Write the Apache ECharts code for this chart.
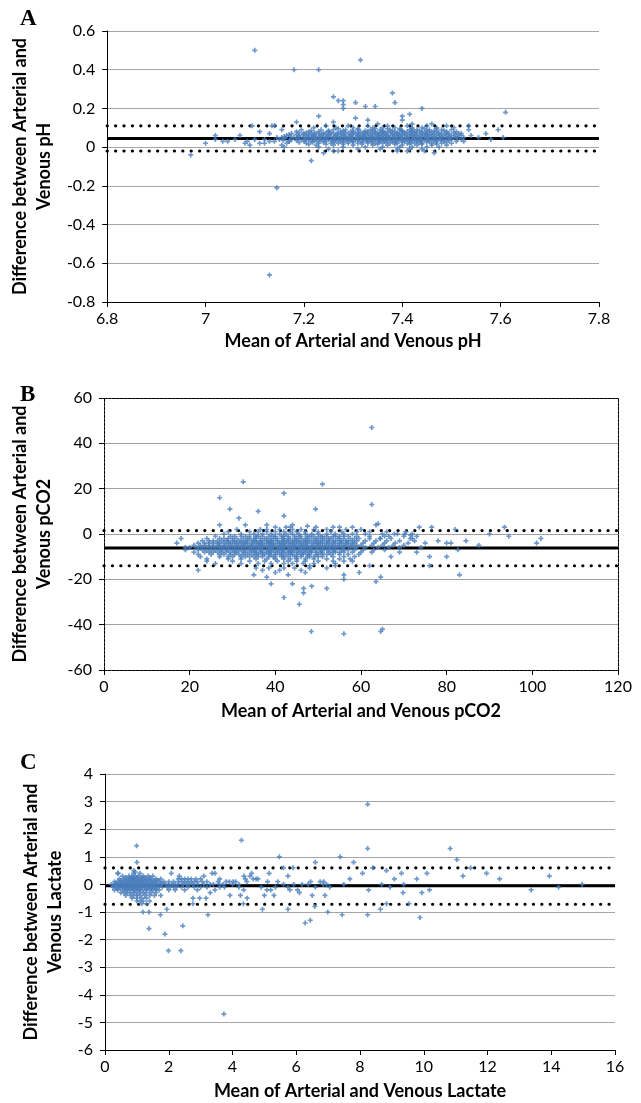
<!DOCTYPE html>
<html>
<head>
<meta charset="utf-8">
<script src="https://cdn.jsdelivr.net/npm/echarts@6/dist/echarts.min.js"></script>
<style>
  html, body { margin: 0; padding: 0; background: #fff; }
  #main { width: 641px; height: 1103px; }
</style>
</head>
<body>
<div id="main"></div>
<script>
// ---- panel A: pH ----
const phLines = [0.045, 0.11, -0.02]; // bias, upper LoA, lower LoA
const phOutliers = [
  [7.10, 0.50], [7.315, 0.45], [7.18, 0.40], [7.23, 0.40], [7.38, 0.28], [7.26, 0.26],
  [7.27, 0.24], [7.28, 0.24], [7.28, 0.22], [7.28, 0.20], [7.305, 0.23], [7.325, 0.21],
  [7.345, 0.21], [7.385, 0.23], [7.44, 0.20], [7.61, 0.18], [7.23, 0.16], [7.305, 0.15],
  [7.33, 0.14], [7.40, 0.16], [7.40, 0.14], [7.415, 0.17], [7.185, 0.13], [6.97, -0.04],
  [7.00, 0.02], [7.02, 0.06], [7.02, 0.04], [7.035, 0.03], [7.045, 0.03], [7.06, 0.04],
  [7.07, 0.06], [7.08, 0.02], [7.085, 0.03], [7.09, 0.01], [7.095, 0.11], [7.10, 0.04],
  [7.11, 0.08], [7.11, 0.02], [7.12, 0.04], [7.13, 0.07], [7.135, 0.11], [7.14, 0.11],
  [7.13, 0.03], [7.145, 0.05], [7.155, 0.09], [7.16, 0.0], [7.17, 0.03], [7.215, -0.07],
  [7.145, -0.21], [7.13, -0.66], [7.57, 0.07], [7.595, 0.09], [7.605, 0.05], [7.58, 0.04],
  [7.555, 0.05], [7.54, 0.06], [7.535, 0.11], [7.535, 0.09], [7.52, 0.07], [7.525, 0.03],
  [7.24, -0.03], [7.26, -0.02], [7.465, -0.03], [7.39, -0.02], [7.26, 0.13], [7.35, 0.12],
  [7.42, 0.12], [7.46, 0.12]
];
const phRows = [
  [0.11, [7.245, 7.29, 7.33, 7.37, 7.41, 7.45, 7.49]],
  [0.10, [7.22, 7.265, 7.30, 7.34, 7.36, 7.385, 7.42, 7.44, 7.47, 7.505]],
  [0.095, [7.27, 7.31, 7.345, 7.37, 7.395, 7.42, 7.445, 7.47]],
  [0.09, [7.195, 7.235, 7.26, 7.285, 7.31, 7.335, 7.355, 7.375, 7.395, 7.415, 7.43, 7.455, 7.48, 7.50]],
  [0.085, [7.215, 7.25, 7.28, 7.30, 7.325, 7.34, 7.36, 7.38, 7.40, 7.42, 7.435, 7.45, 7.465, 7.485]],
  [0.08, [7.185, 7.21, 7.23, 7.25, 7.275, 7.295, 7.315, 7.33, 7.345, 7.36, 7.37, 7.385, 7.40, 7.41, 7.425, 7.44, 7.455, 7.47, 7.49, 7.51]],
  [0.075, [7.19, 7.205, 7.222, 7.24, 7.255, 7.268, 7.283, 7.30, 7.31, 7.323, 7.338, 7.35, 7.362, 7.376, 7.39, 7.404, 7.418, 7.43, 7.447, 7.46, 7.474, 7.49, 7.505]],
  [0.07, [7.175, 7.20, 7.215, 7.23, 7.245, 7.26, 7.275, 7.29, 7.305, 7.32, 7.33, 7.345, 7.355, 7.365, 7.38, 7.39, 7.40, 7.415, 7.425, 7.44, 7.45, 7.465, 7.48, 7.495, 7.515]],
  [0.065, [7.17, 7.185, 7.198, 7.21, 7.222, 7.238, 7.252, 7.268, 7.282, 7.298, 7.312, 7.326, 7.34, 7.353, 7.367, 7.38, 7.392, 7.408, 7.42, 7.436, 7.448, 7.46, 7.476, 7.49, 7.508]],
  [0.06, [7.165, 7.19, 7.205, 7.22, 7.235, 7.25, 7.265, 7.28, 7.295, 7.31, 7.32, 7.335, 7.35, 7.36, 7.37, 7.385, 7.395, 7.405, 7.42, 7.43, 7.445, 7.455, 7.47, 7.485, 7.50, 7.52]],
  [0.055, [7.16, 7.172, 7.19, 7.208, 7.219, 7.231, 7.246, 7.262, 7.276, 7.292, 7.308, 7.32, 7.332, 7.346, 7.358, 7.371, 7.383, 7.397, 7.414, 7.428, 7.44, 7.452, 7.466, 7.48, 7.496, 7.512]],
  [0.05, [7.155, 7.18, 7.20, 7.215, 7.225, 7.24, 7.255, 7.27, 7.285, 7.30, 7.315, 7.325, 7.34, 7.35, 7.365, 7.375, 7.39, 7.40, 7.41, 7.425, 7.435, 7.45, 7.46, 7.475, 7.49, 7.505, 7.525]],
  [0.045, [7.162, 7.187, 7.205, 7.218, 7.232, 7.244, 7.26, 7.274, 7.286, 7.297, 7.31, 7.322, 7.337, 7.347, 7.36, 7.372, 7.386, 7.398, 7.41, 7.422, 7.438, 7.45, 7.464, 7.478, 7.494, 7.512]],
  [0.04, [7.15, 7.175, 7.195, 7.21, 7.225, 7.235, 7.25, 7.265, 7.28, 7.29, 7.305, 7.32, 7.33, 7.345, 7.355, 7.37, 7.38, 7.395, 7.405, 7.42, 7.43, 7.445, 7.455, 7.47, 7.485, 7.50, 7.52]],
  [0.035, [7.158, 7.185, 7.203, 7.222, 7.24, 7.256, 7.27, 7.284, 7.296, 7.31, 7.326, 7.336, 7.35, 7.362, 7.376, 7.388, 7.40, 7.414, 7.425, 7.437, 7.45, 7.463, 7.478, 7.495]],
  [0.03, [7.14, 7.17, 7.20, 7.215, 7.23, 7.245, 7.26, 7.275, 7.29, 7.30, 7.315, 7.33, 7.34, 7.355, 7.365, 7.38, 7.39, 7.405, 7.415, 7.43, 7.44, 7.455, 7.47, 7.485, 7.51]],
  [0.025, [7.19, 7.218, 7.24, 7.262, 7.28, 7.30, 7.32, 7.338, 7.352, 7.368, 7.384, 7.40, 7.418, 7.434, 7.45, 7.468, 7.49]],
  [0.02, [7.12, 7.165, 7.205, 7.23, 7.255, 7.27, 7.29, 7.31, 7.33, 7.345, 7.36, 7.375, 7.39, 7.41, 7.425, 7.44, 7.46, 7.48, 7.50]],
  [0.015, [7.21, 7.245, 7.28, 7.318, 7.35, 7.385, 7.415, 7.44, 7.47]],
  [0.01, [7.155, 7.225, 7.26, 7.30, 7.34, 7.37, 7.40, 7.43, 7.46, 7.49]],
  [0.00, [7.23, 7.28, 7.325, 7.36, 7.395, 7.42, 7.45, 7.475]],
  [-0.01, [7.25, 7.31, 7.355, 7.39, 7.415, 7.44]],
  [-0.02, [7.27, 7.41, 7.445]]
];

// ---- panel B: pCO2 ----
const co2Lines = [-6.2, 1.5, -14];
const co2Outliers = [
  [62.5, 47], [32.5, 23], [51, 22], [42, 18], [27, 16], [62.5, 13], [29.4, 11], [49.4, 11],
  [36, 10], [31.5, 7], [42, 8], [27, 4], [33, 4], [38, 4], [44, 4], [47.5, 3.5], [53.5, 3],
  [63.5, 4], [64, 4.5], [76.5, 3], [82, 2], [93.5, 3], [90, 0], [94.5, -1], [102, -2],
  [101, -4], [87.5, -5], [84.5, -3], [82.6, -7], [83, -18], [76, -14], [80, -10], [76, -10],
  [78, -3], [80, -4], [81, -4], [17, -4], [18, -2], [19, -6], [22, -16], [35, -18], [39, -22],
  [44, -22], [42, -28], [45.6, -31], [46.6, -24], [46.6, -26], [48.5, -23], [52, -24],
  [48.4, -43], [56, -44], [64.6, -43], [65, -42], [63.5, -21], [64.6, -19], [56, -20],
  [56, -18], [59.6, -17], [62, -14], [64.5, -2], [65.5, -1], [67.8, 0], [70.2, 0], [71.6, -0.5],
  [73.6, 3], [74, -6], [75, -4], [73, -8], [67, -10], [69, -8], [72, -2], [43, -18], [40, -17],
  [47, -17], [52, -15], [54, -14], [48, -14], [38, -19], [26, -13], [24, -12], [58, -12]
];
const co2Rows = [
  [3, [40, 42.5, 43.5, 49.5, 55, 58]],
  [2, [31, 36.5, 38, 41, 44, 46, 49, 52, 56.5, 60]],
  [1, [29, 34, 36, 38, 40, 42, 43.5, 45, 47, 50, 53, 55.5, 59, 62, 66, 70.5]],
  [0, [28, 32, 35, 37, 39, 41, 42.5, 44, 45.5, 47, 48.5, 50, 52, 54, 56, 58, 61, 65, 68.5, 72]],
  [-1, [26, 29.5, 32, 34, 35.5, 37, 38.5, 40, 41.5, 43, 44.5, 46, 47.5, 49, 50.5, 52, 53.5, 55, 57, 59, 62, 66.5, 70, 73]],
  [-1, [30.5, 33, 36, 39.5, 42, 45.5, 48, 51, 54, 56]],
  [-2, [24, 27, 29, 31, 32.5, 34, 35, 36.5, 38, 39, 40.5, 42, 43, 44.5, 46, 47, 48.5, 50, 51.5, 53, 54.5, 56, 57.5, 59.5, 62, 64.5, 67, 71.5]],
  [-2, [28, 30, 33.5, 35.5, 37.5, 40, 41.5, 43.5, 45, 47.5, 49.5, 51, 52.5, 55, 58.5]],
  [-3, [23, 25.5, 27.5, 29, 30.5, 32, 33, 34.5, 35.5, 37, 38, 39.5, 40.5, 42, 43, 44.5, 45.5, 47, 48, 49.5, 51, 52.5, 54, 55.5, 57, 59, 61, 63.5, 66, 69, 72.5]],
  [-3, [24.5, 26.5, 28.5, 30, 31.5, 33.5, 35, 36.5, 38.5, 39, 41.5, 42.5, 44, 45, 46.5, 47.5, 49, 50.5, 52, 53.5, 55, 56.5, 58]],
  [-4, [22, 24.5, 26.5, 28, 29.5, 31, 32, 33.5, 34.5, 36, 37, 38.5, 39.5, 41, 42, 43.5, 44.5, 46, 47, 48.5, 50, 51, 52.5, 54, 55.5, 57, 58.5, 60.5, 63, 65.5, 68, 71]],
  [-4, [23.5, 25.5, 27, 29, 30.5, 32.5, 33, 35.5, 36.5, 38, 39, 40.5, 41.5, 43, 44, 45.5, 47.5, 49.5, 50.5, 52, 53.5, 55, 56.5, 58]],
  [-5, [21, 23.5, 25.5, 27, 28.5, 30, 31.5, 32.5, 34, 35, 36.5, 37.5, 39, 40, 41.5, 42.5, 44, 45, 46.5, 47.5, 49, 50.5, 52, 53.5, 55, 56.5, 58, 60, 62.5, 65, 67.5, 70]],
  [-5, [22.5, 24.5, 26.5, 28, 29.5, 31, 33, 34.5, 36, 37, 38.5, 39.5, 41, 42, 43.5, 44.5, 46, 47, 48.5, 50, 51.5, 53, 54.5, 56, 57.5, 59]],
  [-6, [20, 22.5, 24.5, 26.5, 28, 29.5, 31, 32, 33.5, 34.5, 36, 37, 38.5, 39.5, 41, 42, 43.5, 44.5, 46, 47, 48.5, 50, 51.5, 53, 54.5, 56, 57.5, 59, 61, 64, 66.5, 69]],
  [-6, [21.5, 23.5, 25.5, 27.5, 29, 30.5, 32.5, 34, 35.5, 36.5, 38, 39, 40.5, 41.5, 43, 44, 45.5, 46.5, 48, 49.5, 51, 52.5, 54, 55.5, 58.5]],
  [-7, [19, 22, 24, 26, 27.5, 29, 30.5, 32, 33, 34.5, 35.5, 37, 38, 39.5, 40.5, 42, 43, 44.5, 45.5, 47, 48, 49.5, 51, 52.5, 54, 55.5, 57, 58.5, 60.5, 63, 65.5]],
  [-7, [23, 25, 27, 28.5, 30, 31.5, 34, 35, 36.5, 38.5, 39, 41, 41.5, 43.5, 44, 46, 47.5, 48.5, 50.5, 52, 53.5, 56]],
  [-8, [21, 23.5, 25.5, 27.5, 29.5, 31, 32.5, 34, 35.5, 36.5, 38, 39, 40.5, 41.5, 43, 44, 45.5, 46.5, 48, 49.5, 51, 52.5, 54, 56, 58, 60, 62.5]],
  [-8, [24.5, 26.5, 28.5, 30.5, 33, 35, 37, 38.5, 40, 42, 43.5, 45, 47, 48.5, 50.5, 53.5, 55]],
  [-9, [22, 25, 28, 30.5, 32.5, 34.5, 36, 37.5, 39, 40, 41.5, 42.5, 44, 45, 46.5, 48, 49.5, 51, 53, 55, 57, 59.5]],
  [-9, [27, 29.5, 31.5, 33.5, 35.5, 37, 38.5, 41, 43.5, 46, 47.5, 50, 52]],
  [-10, [22.5, 27, 30, 33, 35, 37, 38.5, 40, 41.5, 43, 44.5, 46, 47.5, 49, 51, 53.5, 56, 58.5]],
  [-10, [29, 32, 34, 36, 39.5, 42, 45, 48, 50]],
  [-11, [24, 29, 32, 35.5, 38, 40, 42, 43.5, 45, 47, 49, 52, 55, 57.5]],
  [-12, [30, 34, 37.5, 40.5, 43, 45, 47, 50, 53.5, 56]],
  [-13, [32, 36, 39, 42, 44, 46.5, 49, 54]],
  [-15, [35.5, 38.5, 42, 44.5, 48]],
  [-16, [37, 41, 46]]
];

// ---- panel C: lactate ----
const lacLines = [-0.05, 0.6, -0.72];
const lacOutliers = [
  [8.24, 2.9], [8.24, 1.3], [4.28, 1.6], [0.99, 1.4], [10.83, 1.3], [11.04, 0.9], [5.47, 1.0],
  [7.38, 1.0], [7.8, 0.8], [6.6, 0.8], [1.0, 0.8], [11.47, 0.6], [8.4, 0.6], [5.6, 0.6],
  [5.9, 0.6], [8.08, 0.4], [8.83, 0.5], [9.3, 0.4], [10.1, 0.4], [11.97, 0.4], [11.23, 0.3],
  [13.94, 0.3], [12.38, 0.2], [7.68, 0.2], [9.08, 0.2], [9.78, 0.2], [13.37, -0.2], [14.23, -0.1],
  [14.97, 0.0], [10.18, -0.2], [9.94, -0.3], [9.35, -0.3], [9.37, 0.0], [8.68, 0.0], [8.94, -0.1],
  [8.27, -0.2], [7.49, 0.0], [9.54, -0.7], [8.83, -0.7], [8.64, -0.9], [8.24, -1.1], [9.88, -1.2],
  [7.44, -1.1], [6.99, -1.0], [6.9, -0.4], [6.28, -1.4], [6.44, -1.3], [6.58, -0.8], [6.5, -0.4],
  [6.37, 0.0], [6.86, 0.1], [6.95, 0.0], [5.74, -0.9], [4.94, -0.9], [4.34, -0.7], [4.46, -0.5],
  [3.23, -1.1], [2.44, -1.5], [1.88, -1.8], [1.99, -2.4], [2.38, -2.4], [1.38, -1.6], [1.74, -1.1],
  [1.94, -0.9], [1.19, -1.0], [1.38, -1.0], [3.73, -4.7], [4.36, 0.3], [4.4, 0.2], [5.15, 0.4],
  [4.6, 0.4], [4.74, 0.2], [5.08, -0.2], [5.0, -0.4], [5.3, -0.4], [6.04, -0.2], [5.74, -0.1],
  [5.92, 0.0], [6.18, 0.0], [5.74, 0.3], [5.42, 0.1], [3.36, 0.4], [3.45, 0.4], [3.6, 0.2],
  [3.1, 0.3], [2.97, -0.5], [2.76, -0.7], [2.76, -0.5], [3.17, -0.5], [3.92, -0.4], [4.02, 0.1],
  [4.2, 0.0], [3.58, 0.0], [2.08, 0.4], [2.33, 0.3], [0.41, 0.4], [3.2, 0.1], [3.4, 0.0],
  [3.55, 0.1], [3.7, 0.0], [3.8, 0.1], [3.9, 0.1], [4.0, 0.0], [4.1, 0.1], [4.2, -0.1],
  [3.6, -0.1], [3.3, -0.3], [3.45, -0.2], [3.75, -0.1], [4.25, -0.4], [4.35, -0.2], [4.45, 0.1],
  [4.55, 0.3], [4.65, 0.2], [4.8, 0.2], [4.9, -0.1], [5.1, 0.1], [5.2, -0.2], [5.35, -0.1],
  [5.6, 0.0], [5.8, -0.2], [6.1, -0.3], [6.45, 0.1], [6.6, -0.1], [6.75, 0.1], [6.85, 0.0],
  [7.05, -0.1], [0.9, 0.5], [0.95, 0.45], [1.3, -0.7], [1.1, -0.6]
];
const lacRows = [
  [0.4, [0.4, 0.9, 1.1]],
  [0.3, [0.55, 0.75, 0.85, 0.95, 1.05, 1.2, 1.35, 1.5]],
  [0.25, [0.65, 0.8, 0.9, 1.0, 1.15, 1.25, 1.4]],
  [0.2, [0.45, 0.6, 0.7, 0.8, 0.9, 1.0, 1.1, 1.2, 1.3, 1.45, 1.6, 1.75, 2.3, 2.4, 2.5, 2.6, 2.7, 2.85, 3.0]],
  [0.15, [0.5, 0.65, 0.8, 0.9, 1.05, 1.15, 1.3, 1.4, 1.55, 1.65]],
  [0.1, [0.3, 0.4, 0.5, 0.6, 0.7, 0.75, 0.85, 0.95, 1.0, 1.1, 1.15, 1.25, 1.35, 1.45, 1.55, 1.7, 1.85, 2.0, 2.15, 2.3, 2.4, 2.5, 2.6, 2.7, 2.8, 2.9, 3.05]],
  [0.05, [0.35, 0.5, 0.65, 0.8, 0.9, 1.0, 1.2, 1.3, 1.45, 1.6, 1.8]],
  [0.0, [0.2, 0.3, 0.35, 0.45, 0.55, 0.6, 0.7, 0.8, 0.85, 0.95, 1.05, 1.1, 1.2, 1.3, 1.4, 1.5, 1.6, 1.75, 1.9, 2.0, 2.1, 2.2, 2.3, 2.45, 2.55, 2.65, 2.75, 2.9, 3.1, 3.3]],
  [-0.05, [0.3, 0.4, 0.55, 0.7, 0.8, 0.95, 1.15, 1.25, 1.4, 1.5, 1.7]],
  [-0.1, [0.25, 0.35, 0.45, 0.5, 0.6, 0.65, 0.75, 0.85, 0.9, 1.0, 1.05, 1.15, 1.25, 1.35, 1.45, 1.55, 1.65, 1.8, 1.95, 2.05, 2.15, 2.25, 2.4, 2.6, 2.8, 3.0, 3.2]],
  [-0.15, [0.4, 0.6, 0.75, 0.85, 1.0, 1.1, 1.3, 1.45, 1.6]],
  [-0.2, [0.3, 0.4, 0.55, 0.65, 0.7, 0.8, 0.9, 0.95, 1.05, 1.1, 1.2, 1.3, 1.4, 1.5, 1.6, 1.7, 2.0, 2.2, 2.5, 2.9]],
  [-0.3, [0.5, 0.6, 0.7, 0.8, 0.9, 1.0, 1.1, 1.2, 1.3, 1.45, 1.6]],
  [-0.4, [0.65, 0.8, 0.9, 1.0, 1.1, 1.25, 1.4, 1.55, 1.75]],
  [-0.5, [0.85, 1.0, 1.15, 1.3]],
  [-0.6, [1.0, 1.2, 1.4]],
  [-0.7, [1.15]]
];

const blue = '#4a7ebb';
const plus = 'path://M2,0H4V2H6V4H4V6H2V4H0V2H2Z';
const tickFont = 'Lato';

function points(outliers, rows) {
  return outliers.concat(rows.flatMap(([y, xs]) => xs.map(x => [x, y])));
}
function fmt(v) { return String(Math.round(v * 10) / 10); }

function xAxisOf(gi, min, max, interval, name, gap, dashed) {
  return {
    gridIndex: gi, type: 'value', min: min, max: max, interval: interval,
    name: name, nameLocation: 'middle', nameGap: gap,
    nameTextStyle: { fontFamily: tickFont, fontWeight: 'bold', fontSize: 18, color: '#000' },
    axisLine: { onZero: false, lineStyle: { color: '#000', width: 1, type: dashed ? [3, 1] : 'solid' } },
    axisTick: { show: true, inside: false, length: 5, lineStyle: { color: '#000' } },
    axisLabel: { margin: 9, fontFamily: tickFont, fontSize: 16, color: '#000', formatter: fmt },
    splitLine: { show: false }
  };
}
function yAxisOf(gi, min, max, interval, name, gap, dashed, gridColor) {
  return {
    gridIndex: gi, type: 'value', min: min, max: max, interval: interval,
    name: name, nameLocation: 'middle', nameRotate: 90, nameGap: gap,
    nameTextStyle: { fontFamily: tickFont, fontWeight: 'bold', fontSize: 18, lineHeight: 24, color: '#000' },
    axisLine: { onZero: false, lineStyle: { color: '#000', width: 1, type: dashed ? [3, 1] : 'solid' } },
    axisTick: { show: true, inside: false, length: 5, lineStyle: { color: '#000' } },
    axisLabel: { margin: 12, fontFamily: tickFont, fontSize: 16, color: '#000', formatter: fmt },
    splitLine: { show: true, lineStyle: { color: gridColor, width: 1.2 } }
  };
}
function frame(gi, min, max, isX) {
  return {
    gridIndex: gi, type: 'value', min: min, max: max, position: isX ? 'top' : 'right',
    axisLine: { show: true, onZero: false, lineStyle: { color: '#000', width: 1, type: [3, 1] } },
    axisTick: { show: false }, axisLabel: { show: false }, splitLine: { show: false }
  };
}
function refLines(xi, yi, xmin, xmax, vals) {
  return vals.map((v, i) => ({
    type: 'line', xAxisIndex: xi, yAxisIndex: yi, symbol: 'none', silent: true, z: 2,
    data: [[xmin, v], [xmax, v]],
    lineStyle: i === 0
      ? { color: '#000', width: 3 }
      : { color: '#000', width: 3.2, type: [0.1, 8.3], cap: 'round' }
  }));
}
function scatter(xi, yi, data) {
  return {
    type: 'scatter', xAxisIndex: xi, yAxisIndex: yi, data: data, z: 3,
    symbol: plus, symbolSize: 5, itemStyle: { color: blue }
  };
}

const chart = echarts.init(document.getElementById('main'));
chart.setOption({
  backgroundColor: '#fff',
  animation: false,
  grid: [
    { left: 104, top: 31, width: 495, height: 271 },
    { left: 104, top: 398, width: 514, height: 272 },
    { left: 105, top: 774, width: 510, height: 276 }
  ],
  xAxis: [
    xAxisOf(0, 6.8, 7.8, 0.2, 'Mean of Arterial and Venous pH', 30, false),
    xAxisOf(1, 0, 120, 20, 'Mean of Arterial and Venous pCO2', 32, true),
    xAxisOf(2, 0, 16, 2, 'Mean of Arterial and Venous Lactate', 32, false),
    frame(1, 0, 120, true)
  ],
  yAxis: [
    yAxisOf(0, -0.8, 0.6, 0.2, 'Difference between Arterial and\nVenous pH', 46, false, '#a6a6a6'),
    yAxisOf(1, -60, 60, 20, 'Difference between Arterial and\nVenous pCO2', 43, true, '#a0a0a0'),
    yAxisOf(2, -6, 4, 1, 'Difference between Arterial and\nVenous Lactate', 36, false, '#a6a6a6'),
    frame(1, -60, 60, false)
  ],
  graphic: [
    { type: 'text', left: 20, top: 8, style: { text: 'A', font: 'bold 23px "Liberation Serif"', fill: '#000' } },
    { type: 'text', left: 20, top: 384, style: { text: 'B', font: 'bold 23px "Liberation Serif"', fill: '#000' } },
    { type: 'text', left: 20, top: 752, style: { text: 'C', font: 'bold 23px "Liberation Serif"', fill: '#000' } }
  ],
  series: [].concat(
    refLines(0, 0, 6.8, 7.8, phLines),
    [scatter(0, 0, points(phOutliers, phRows))],
    refLines(1, 1, 0, 120, co2Lines),
    [scatter(1, 1, points(co2Outliers, co2Rows))],
    refLines(2, 2, 0, 16, lacLines),
    [scatter(2, 2, points(lacOutliers, lacRows))]
  )
});
</script>
</body>
</html>
